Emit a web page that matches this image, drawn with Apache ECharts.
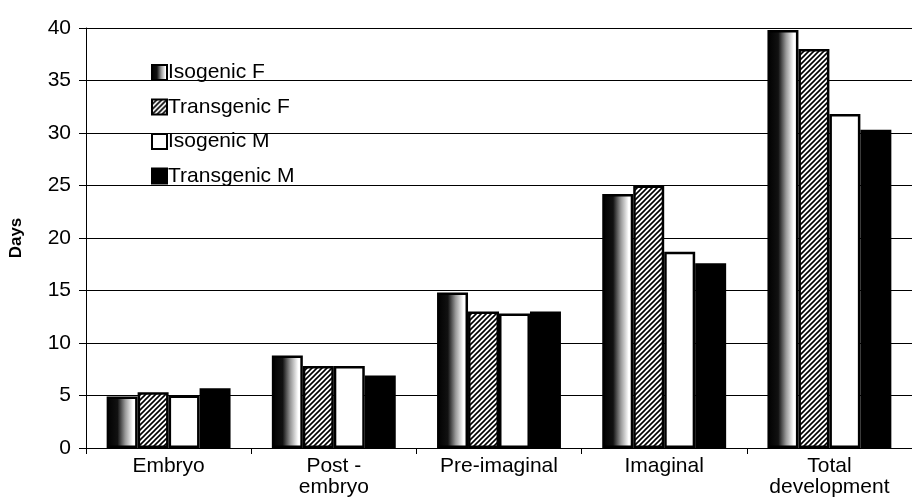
<!DOCTYPE html>
<html>
<head>
<meta charset="utf-8">
<script src="https://cdn.jsdelivr.net/npm/echarts@6/dist/echarts.min.js"></script>
<style>
html,body{margin:0;padding:0;background:#fff;}
#chart{width:912px;height:504px;}
</style>
</head>
<body>
<div id="chart"></div>
<script>
var categories = ['Embryo', 'Post -\nembryo', 'Pre-imaginal', 'Imaginal', 'Total\ndevelopment'];
var seriesNames = ['Isogenic F', 'Transgenic F', 'Isogenic M', 'Transgenic M'];
var isogenicF = [4.9, 8.8, 14.8, 24.2, 39.8];
var transgenicF = [5.3, 7.8, 13.0, 25.0, 38.0];
var isogenicM = [5.0, 7.8, 12.8, 18.7, 31.8];
var transgenicM = [5.7, 6.9, 13.0, 17.6, 30.3];
var yTicks = {min: 0, max: 40, interval: 5};

function hatchPattern() {
  var c = document.createElement('canvas');
  c.width = 5; c.height = 5;
  var ctx = c.getContext('2d');
  ctx.fillStyle = '#fff';
  ctx.fillRect(0, 0, 5, 5);
  ctx.strokeStyle = '#000';
  ctx.lineWidth = 1.6;
  ctx.beginPath();
  ctx.moveTo(-1, 6); ctx.lineTo(6, -1);
  ctx.moveTo(-3, 3); ctx.lineTo(3, -3);
  ctx.moveTo(2, 8); ctx.lineTo(8, 2);
  ctx.stroke();
  return c;
}

var gradFill = new echarts.graphic.LinearGradient(0, 0, 1, 0, [
  {offset: 0, color: '#000'},
  {offset: 0.35, color: '#111'},
  {offset: 0.6, color: '#999'},
  {offset: 0.85, color: '#fff'},
  {offset: 1, color: '#fff'}
]);

var fills = [
  gradFill,
  {image: hatchPattern(), repeat: 'repeat'},
  '#ffffff',
  '#000000'
];
var values = [isogenicF, transgenicF, isogenicM, transgenicM];
var font = 'Liberation Sans, Arial, sans-serif';

var chart = echarts.init(document.getElementById('chart'), null, {renderer: 'canvas'});
chart.setOption({
  animation: false,
  backgroundColor: '#fff',
  grid: {left: 85, top: 28, bottom: 56, right: -8, containLabel: false},
  legend: {
    orient: 'vertical',
    left: 151,
    top: 62,
    padding: 0,
    itemWidth: 15,
    itemHeight: 15,
    itemGap: 13.5,
    icon: 'rect',
    textStyle: {fontFamily: font, fontSize: 21, color: '#000', padding: [0, 0, 0, -4]},
    data: seriesNames
  },
  xAxis: {
    type: 'category',
    data: categories,
    axisLine: {lineStyle: {color: '#000', width: 1}},
    axisTick: {show: true, length: 6, lineStyle: {color: '#000'}},
    axisLabel: {fontFamily: font, fontSize: 21, color: '#000', margin: 8, lineHeight: 21, interval: 0}
  },
  yAxis: {
    type: 'value',
    min: yTicks.min, max: yTicks.max, interval: yTicks.interval,
    name: 'Days',
    nameLocation: 'middle',
    nameRotate: 90,
    nameGap: 61,
    nameTextStyle: {fontFamily: font, fontSize: 17, fontWeight: 'bold', color: '#000'},
    axisLine: {show: true, lineStyle: {color: '#000', width: 1}},
    axisTick: {show: true, length: 7, lineStyle: {color: '#000'}},
    axisLabel: {fontFamily: font, fontSize: 21, color: '#000', margin: 15},
    splitLine: {show: true, lineStyle: {color: '#000', width: 1}}
  },
  series: values.map(function (v, i) {
    return {
      name: seriesNames[i],
      type: 'bar',
      data: v,
      barGap: '0%',
      barCategoryGap: '25%',
      itemStyle: {color: fills[i], borderColor: '#000', borderWidth: 2.5}
    };
  })
});
</script>
</body>
</html>
